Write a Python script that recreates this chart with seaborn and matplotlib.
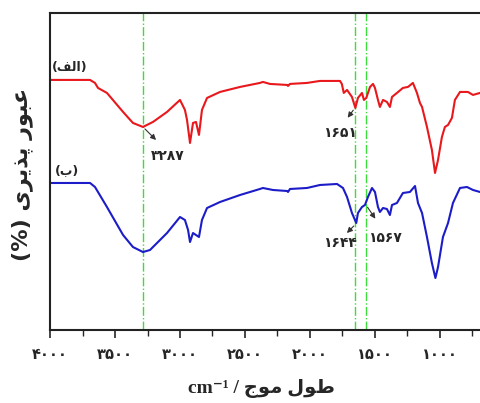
import seaborn as sns
import matplotlib
matplotlib.use('Agg')
import matplotlib.pyplot as plt
from matplotlib.ticker import MultipleLocator, FuncFormatter
import pandas as pd

sns.set_style('white')
plt.rcParams['font.family'] = ['DejaVu Sans']

# wavenumber (cm-1) and relative transmittance
wn_red = [4000, 3800, 3692, 3654, 3631, 3562, 3438, 3362, 3285, 3208, 3100, 3000,
          2962, 2946, 2923, 2900, 2877, 2854, 2831, 2792, 2692, 2538, 2385, 2362,
          2308, 2177, 2169, 2154, 2023, 1923, 1769, 1755, 1740, 1715, 1677, 1651,
          1631, 1600, 1585, 1567, 1538, 1515, 1500, 1477, 1462, 1438, 1408, 1385,
          1369, 1331, 1285, 1246, 1208, 1177, 1154, 1138, 1100, 1062, 1038, 1015,
          985, 962, 938, 908, 885, 846, 785, 746, 692]
t_red = [250, 250, 250, 247, 242, 237, 218, 207, 203, 208, 218, 230,
         220, 210, 187, 207, 208, 195, 220, 232, 238, 243, 247, 248,
         246, 245, 244, 246, 247, 249, 249, 246, 237, 240, 233, 222,
         232, 237, 230, 232, 243, 246, 242, 230, 223, 230, 228, 223,
         233, 237, 242, 243, 247, 237, 227, 223, 203, 180, 157, 170,
         193, 203, 205, 212, 230, 238, 238, 235, 237]

wn_blue = [4000, 3800, 3692, 3654, 3562, 3438, 3362, 3285, 3231, 3100, 3000,
           2962, 2938, 2923, 2900, 2877, 2854, 2831, 2792, 2692, 2538, 2385,
           2362, 2285, 2177, 2169, 2154, 2023, 1923, 1792, 1746, 1715, 1677,
           1644, 1631, 1600, 1577, 1554, 1523, 1500, 1477, 1462, 1438, 1408,
           1385, 1369, 1331, 1285, 1231, 1192, 1169, 1138, 1100, 1062, 1035,
           1015, 977, 938, 900, 846, 792, 746, 692]
t_blue = [147, 147, 147, 143, 123, 95, 83, 78, 80, 97, 113,
          110, 100, 88, 97, 95, 93, 110, 122, 128, 135, 141,
          142, 140, 139, 138, 141, 142, 145, 146, 142, 133, 117,
          107, 117, 123, 125, 133, 142, 138, 123, 118, 122, 121,
          115, 125, 127, 137, 138, 144, 127, 117, 93, 67, 52,
          63, 93, 107, 127, 142, 143, 140, 138]

guide_lines = [3287, 1651, 1567]
x_ticks = [4000, 3500, 3000, 2500, 2000, 1500, 1000]

fa_digits = str.maketrans('0123456789', '۰۱۲۳۴۵۶۷۸۹')


def fa(n):
    return str(n).translate(fa_digits)


# persian words in visual (left-to-right) order with presentation forms
lbl_a = '(\uFED2\uFEDF\uFE8D)'
lbl_b = '(\uFE8F)'
ylab = '(%) \uFBFC\uFEAE\uFBFE\uFEAC\uFB58 \uFEAD\uFEEE\uFE92\uFECB'
xlab = 'cm\u207B\u00B9 / \uFE9D\uFEEE\uFEE3 \uFEDD\uFEEE\uFEC3'

df_red = pd.DataFrame({'wn': wn_red, 't': t_red})
df_blue = pd.DataFrame({'wn': wn_blue, 't': t_blue})

fig = plt.figure(figsize=(4.8, 4.03), dpi=100)
ax = fig.add_axes([0.1042, 0.181, 0.8958, 0.787])

sns.lineplot(data=df_red, x='wn', y='t', color='#e8181c', lw=1.5, ax=ax, estimator=None)
sns.lineplot(data=df_blue, x='wn', y='t', color='#1c1cc8', lw=1.5, ax=ax, estimator=None)

for g in guide_lines:
    ax.axvline(g, color='#3ddc3d', ls='-.', lw=1.0, zorder=0)

ax.set_xlim(4000, 692)
ax.set_ylim(0, 317)
ax.set_yticks([])
ax.xaxis.set_minor_locator(MultipleLocator(250))
ax.set_xticks(x_ticks)
ax.xaxis.set_major_formatter(FuncFormatter(lambda v, p: fa(int(round(v)))))
ax.tick_params(axis='x', which='major', direction='out', length=6, width=1.2,
               labelsize=10.5, pad=6, bottom=True)
ax.tick_params(axis='x', which='minor', direction='out', length=4, width=1.0, bottom=True)
for lab in ax.get_xticklabels():
    lab.set_fontweight('bold')
ax.set_xlabel('')
ax.set_ylabel('')
for s in ['left', 'bottom', 'top']:
    ax.spines[s].set_linewidth(1.5)
    ax.spines[s].set_color('#222222')
ax.spines['right'].set_visible(False)

ax.text(3846, 262, lbl_a, ha='center', va='center', fontsize=9, fontweight='bold')
ax.text(3869, 159, lbl_b, ha='center', va='center', fontsize=9, fontweight='bold')

aprops = dict(arrowstyle='-|>', color='#333333', lw=0.8, mutation_scale=8)
ax.annotate('', xy=(3169, 188), xytext=(3285, 203), arrowprops=aprops)
ax.annotate('', xy=(1723, 210), xytext=(1654, 222), arrowprops=aprops)
ax.annotate('', xy=(1731, 95), xytext=(1648, 106), arrowprops=aprops)
ax.annotate('', xy=(1485, 109), xytext=(1569, 125), arrowprops=aprops)

ax.text(3092, 174, fa(3287), ha='center', va='center', fontsize=10, fontweight='bold')
ax.text(1769, 197, fa(1651), ha='center', va='center', fontsize=10, fontweight='bold')
ax.text(1769, 87, fa(1644), ha='center', va='center', fontsize=10, fontweight='bold')
ax.text(1423, 92, fa(1567), ha='center', va='center', fontsize=10, fontweight='bold')

fig.text(22 / 480, 0.566, ylab, rotation=90, ha='center', va='center',
         fontsize=16, fontweight='bold')
fig.text(262 / 480, 1 - 388 / 403, xlab, ha='center', va='center',
         fontsize=14, fontweight='bold', family=['Liberation Serif', 'DejaVu Sans'])

fig.savefig('out.png', dpi=100)
